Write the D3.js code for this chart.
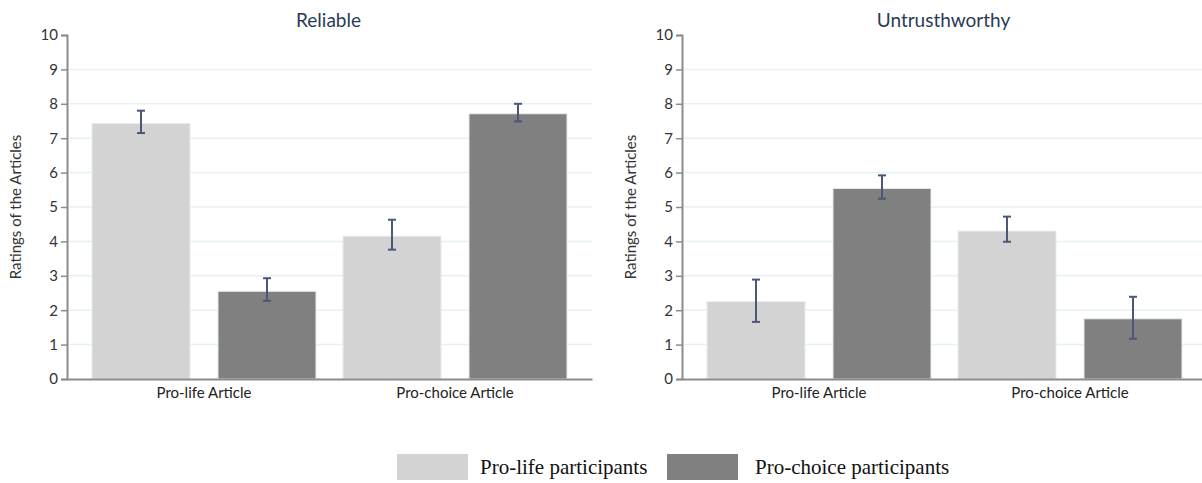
<!DOCTYPE html>
<html>
<head>
<meta charset="utf-8">
<script src="https://cdn.jsdelivr.net/npm/d3@7"></script>
<style>
  html, body { margin: 0; padding: 0; background: #ffffff; }
  svg { display: block; }
</style>
</head>
<body>
<svg id="chart" width="1202" height="483"></svg>
<script>
// Article types on the x axis, participant groups as the bars in each cluster
const articles = ["Pro-life Article", "Pro-choice Article"];
const groups = ["Pro-life participants", "Pro-choice participants"];
const yTicks = [0, 1, 2, 3, 4, 5, 6, 7, 8, 9, 10];

// Mean ratings (rows: article, columns: participant group) and error bar limits
const reliableMeans = [[7.43, 2.55], [4.15, 7.71]];
const reliableLow   = [[7.15, 2.27], [3.76, 7.49]];
const reliableHigh  = [[7.80, 2.93], [4.63, 8.00]];

const untrustMeans = [[2.25, 5.54], [4.30, 1.75]];
const untrustLow   = [[1.66, 5.24], [3.99, 1.17]];
const untrustHigh  = [[2.89, 5.92], [4.72, 2.39]];

const panelTitles = ["Reliable", "Untrusthworthy"];
const yAxisTitle = "Ratings of the Articles";

const fills = ["#d3d3d3", "#808080"];
const errColor = "#4b5775";
const axisColor = "#8c8c8c";
const gridColor = "#e8f1f1";
const sansFont = "Lato, 'Open Sans', sans-serif";

const svg = d3.select("#chart");

const y = d3.scaleLinear().domain([0, 10]).range([379, 35]);

function drawPanel(left, title, means, low, high) {
  const right = left + 525;
  const g = svg.append("g");

  const x0 = d3.scaleBand().domain(articles).range([left, right])
    .paddingInner(0.1076).paddingOuter(0.0996);
  const x1 = d3.scaleBand().domain(groups).range([0, x0.bandwidth()])
    .paddingInner(0.222).paddingOuter(0);

  // light horizontal gridlines
  g.selectAll("line.grid").data(yTicks.filter(t => t > 0 && t < 10)).join("line")
    .attr("x1", left).attr("x2", right)
    .attr("y1", d => y(d)).attr("y2", d => y(d))
    .attr("stroke", gridColor).attr("stroke-width", 1.5);

  // bars
  const rows = [];
  articles.forEach((a, i) => groups.forEach((p, j) => {
    rows.push({ a, p, j, v: means[i][j], lo: low[i][j], hi: high[i][j] });
  }));

  g.selectAll("rect.bar").data(rows).join("rect")
    .attr("x", d => x0(d.a) + x1(d.p))
    .attr("width", x1.bandwidth())
    .attr("y", d => y(d.v))
    .attr("height", d => y(0) - y(d.v))
    .attr("fill", d => fills[d.j])
    .attr("stroke", "#e4eded").attr("stroke-width", 1);

  // error bars
  const cx = d => x0(d.a) + x1(d.p) + x1.bandwidth() / 2;
  const eb = g.selectAll("g.err").data(rows).join("g")
    .attr("stroke", errColor).attr("stroke-width", 2);
  eb.append("line")
    .attr("x1", cx).attr("x2", cx)
    .attr("y1", d => y(d.lo)).attr("y2", d => y(d.hi));
  eb.append("line")
    .attr("x1", d => cx(d) - 4).attr("x2", d => cx(d) + 4)
    .attr("y1", d => y(d.hi)).attr("y2", d => y(d.hi));
  eb.append("line")
    .attr("x1", d => cx(d) - 4).attr("x2", d => cx(d) + 4)
    .attr("y1", d => y(d.lo)).attr("y2", d => y(d.lo));

  // y axis
  const yAxis = g.append("g").attr("transform", `translate(${left},0)`)
    .call(d3.axisLeft(y).tickValues(yTicks).tickSize(6).tickPadding(3));
  yAxis.select(".domain").attr("stroke", axisColor).attr("stroke-width", 2);
  yAxis.selectAll(".tick line").attr("stroke", axisColor).attr("stroke-width", 1.5);
  yAxis.selectAll(".tick text")
    .attr("font-family", sansFont).attr("font-size", 15).attr("fill", "#333");

  // x axis
  const xAxis = g.append("g").attr("transform", `translate(0,${y(0)})`)
    .call(d3.axisBottom(x0).tickSize(0).tickPadding(8).tickSizeOuter(0));
  xAxis.select(".domain").attr("stroke", axisColor).attr("stroke-width", 2);
  xAxis.selectAll(".tick text")
    .attr("font-family", sansFont).attr("font-size", 15).attr("fill", "#222");

  // panel title
  g.append("text")
    .attr("x", (left + right) / 2 - 1).attr("y", 27)
    .attr("text-anchor", "middle")
    .attr("font-family", sansFont).attr("font-size", 19)
    .attr("fill", "#2b3a58")
    .text(title);

  // y axis title
  g.append("text")
    .attr("transform", `translate(${left - 46},${(y(0) + y(10)) / 2}) rotate(-90)`)
    .attr("text-anchor", "middle")
    .attr("font-family", sansFont).attr("font-size", 15)
    .attr("fill", "#333")
    .text(yAxisTitle);
}

drawPanel(67, panelTitles[0], reliableMeans, reliableLow, reliableHigh);
drawPanel(682, panelTitles[1], untrustMeans, untrustLow, untrustHigh);

// legend
const legend = svg.append("g").attr("transform", "translate(397,454)");
const legendX = [0, 270];
const legendTextX = [83, 88];
groups.forEach((p, j) => {
  const item = legend.append("g").attr("transform", `translate(${legendX[j]},0)`);
  item.append("rect").attr("width", 71).attr("height", 26).attr("fill", fills[j]);
  item.append("text").attr("x", legendTextX[j]).attr("y", 20)
    .attr("font-family", "'Liberation Serif', 'Times New Roman', serif")
    .attr("font-size", 21).attr("fill", "#111")
    .text(p);
});
</script>
</body>
</html>
